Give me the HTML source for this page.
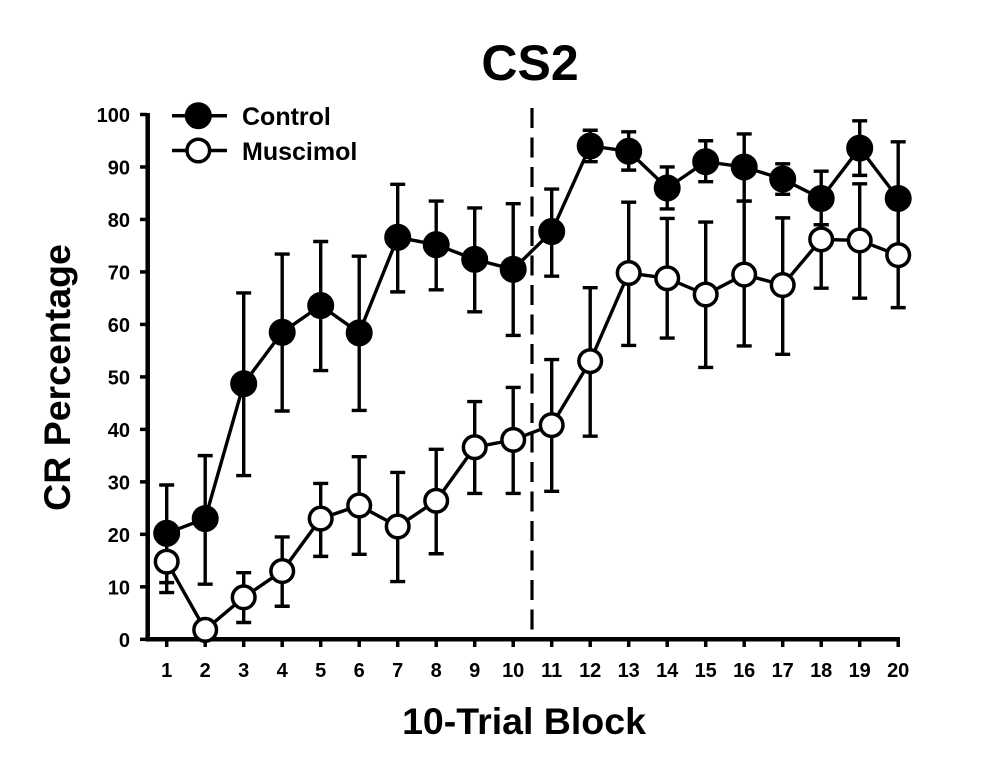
<!DOCTYPE html>
<html>
<head>
<meta charset="utf-8">
<style>
html,body{margin:0;padding:0;background:#fff;}
svg{display:block;}
text{font-family:"Liberation Sans",Arial,sans-serif;font-weight:bold;fill:#000;}
</style>
</head>
<body>
<svg id="chart" width="990" height="768" viewBox="0 0 990 768" xmlns="http://www.w3.org/2000/svg">
<rect width="990" height="768" fill="#fff"/>
<text x="530" y="80" font-size="50" text-anchor="middle">CS2</text>
<text x="524" y="734" font-size="37.500" text-anchor="middle">10-Trial Block</text>
<text transform="translate(70,377.500) rotate(-90)" font-size="37.500" text-anchor="middle">CR Percentage</text>
<g id="axes"></g>
<line x1="532" y1="108" x2="532" y2="637" stroke="#000" stroke-width="3.200" stroke-dasharray="20 9.500"/>
<g id="marks"></g>
<g>
<g>
<line x1="172" y1="115.700" x2="227" y2="115.700" stroke="#000" stroke-width="3.500"/>
<circle cx="198.300" cy="115.700" r="13" fill="#000" stroke="#000" stroke-width="1"/>
<text x="242" y="125" font-size="25">Control</text>
</g>
<g>
<line x1="172" y1="150.500" x2="227" y2="150.500" stroke="#000" stroke-width="3.500"/>
<circle cx="198.300" cy="150.500" r="11.300" fill="#fff" stroke="#000" stroke-width="3.500"/>
<text x="242" y="160" font-size="25">Muscimol</text>
</g>
</g>
</svg>
<script>
const categories = [1,2,3,4,5,6,7,8,9,10,11,12,13,14,15,16,17,18,19,20];
const yTickLabels = [0,10,20,30,40,50,60,70,80,90,100];
const controlValues = [20.2,23,48.7,58.5,63.6,58.4,76.6,75.2,72.4,70.5,77.7,94,93,86,91,90,87.7,84,93.6,84];
const controlUpper = [29.4,35,66,73.4,75.8,73,86.7,83.5,82.2,83,85.8,97,96.7,90,95,96.3,90.6,89.2,98.8,94.8];
const controlLower = [10.8,10.5,31.2,43.5,51.2,43.6,66.2,66.6,62.4,57.9,69.2,91,89.4,82,87.2,83.5,84.8,79,88.4,73];
const muscimolValues = [14.8,1.8,8,13,23,25.5,21.5,26.4,36.6,38,40.8,53,69.8,68.8,65.7,69.5,67.5,76.2,76,73.2];
const muscimolUpper = [20,3,12.7,19.5,29.7,34.8,31.8,36.2,45.3,48,53.3,67,83.3,80.2,79.5,83.5,80.3,79,86.8,83.2];
const muscimolLower = [8.9,0.5,3.2,6.3,15.8,16.2,11,16.3,27.8,27.8,28.2,38.7,56,57.4,51.8,55.9,54.3,66.9,65,63.2];

const NS = 'http://www.w3.org/2000/svg';
const xScale = function (c) { return 166.7 + (c - 1) * 38.5; };
const yScale = function (v) { return 639.3 - v * 5.248; };

function make(parent, tag, attrs) {
  const el = document.createElementNS(NS, tag);
  for (const k in attrs) el.setAttribute(k, attrs[k]);
  parent.appendChild(el);
  return el;
}

const axes = document.getElementById('axes');
const yLine = make(axes, 'line', {x1: 147.7, y1: yScale(100) - 1.5, x2: 147.7, y2: yScale(0) + 2, stroke: '#000', 'stroke-width': 4.5});


const xLine = make(axes, 'line', {x1: 145.5, y1: yScale(0), x2: 900, y2: yScale(0), stroke: '#000', 'stroke-width': 4.5});



yTickLabels.forEach(function (v) {
  const t = make(axes, 'line', {x1: 140, y1: yScale(v), x2: 147, y2: yScale(v), stroke: '#000', 'stroke-width': 3.5});
  
  
  const l = make(axes, 'text', {x: 130, y: yScale(v) + 7.5, 'font-size': 20, 'text-anchor': 'end'});
  
  
  l.textContent = v;
});
categories.forEach(function (c) {
  const t = make(axes, 'line', {x1: xScale(c), y1: yScale(0), x2: xScale(c), y2: 647, stroke: '#000', 'stroke-width': 3.5});
  
  
  const l = make(axes, 'text', {x: xScale(c), y: 677, 'font-size': 20, 'text-anchor': 'middle'});
  
  
  l.textContent = c;
});

const marks = document.getElementById('marks');
function drawSeries(name, values, upper, lower, fill, radius, strokeW) {
  const g = make(marks, 'g', {});
  
  
  categories.forEach(function (c, i) {
    const x = xScale(c), yu = yScale(upper[i]), yl = yScale(lower[i]);
    const bar = make(g, 'path', {
      d: 'M' + (x - 7.5) + ' ' + yu + 'H' + (x + 7.5) + 'M' + x + ' ' + yu + 'V' + yl + 'M' + (x - 7.5) + ' ' + yl + 'H' + (x + 7.5),
      stroke: '#000', 'stroke-width': 3.4, fill: 'none'
    });
    
    
  });
  const pts = categories.map(function (c, i) { return xScale(c) + ',' + yScale(values[i]); }).join(' ');
  const line = make(g, 'polyline', {points: pts, fill: 'none', stroke: '#000', 'stroke-width': 3.4});
  
  
  categories.forEach(function (c, i) {
    const p = make(g, 'circle', {cx: xScale(c), cy: yScale(values[i]), r: radius, fill: fill, stroke: '#000', 'stroke-width': strokeW});
    
    
  });
}
drawSeries('control', controlValues, controlUpper, controlLower, '#000', 13, 1);
drawSeries('muscimol', muscimolValues, muscimolUpper, muscimolLower, '#fff', 11.3, 3.5);
</script>
</body>
</html>
